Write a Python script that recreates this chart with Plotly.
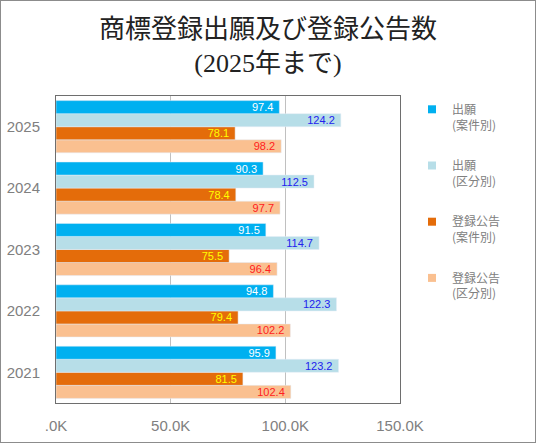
import plotly.graph_objects as go

# values in thousands
years = ["2021", "2022", "2023", "2024", "2025"]
app_cases = [95.9, 94.8, 91.5, 90.3, 97.4]
app_classes = [123.2, 122.3, 114.7, 112.5, 124.2]
reg_cases = [81.5, 79.4, 75.5, 78.4, 78.1]
reg_classes = [102.4, 102.2, 96.4, 97.7, 98.2]

series_names = ["出願<br>(案件別)", "出願<br>(区分別)", "登録公告<br>(案件別)", "登録公告<br>(区分別)"]
series_values = [app_cases, app_classes, reg_cases, reg_classes]
bar_colors = ["#00B0F0", "#B7DEE8", "#E46C0A", "#FAC090"]
label_colors = ["#FFFFFF", "#2222EE", "#FFFF00", "#FF2020"]

x_tickvals = [0, 50, 100, 150]
x_ticktext = [".0K", "50.0K", "100.0K", "150.0K"]

W, H = 536, 443
ML, MR, MT, MB = 56, 136, 96, 40
PW, PH = W - ML - MR, H - MT - MB

fig = go.Figure()

# plotly stacks grouped horizontal bars bottom-up, so add in reverse
for i in reversed(range(len(series_names))):
    fig.add_trace(
        go.Bar(
            name=series_names[i],
            y=years,
            x=series_values[i],
            orientation="h",
            marker_color=bar_colors[i],
            texttemplate="%{x:.1f}\u00a0",
            textposition="inside",
            insidetextanchor="end",
            constraintext="none",
            textfont={"color": label_colors[i], "size": 11, "family": "Liberation Sans, Arial, sans-serif"},
            showlegend=False,
            hoverinfo="x+name",
        )
    )

# small square legend keys (bar keys are too big)
for i in range(len(series_names)):
    fig.add_trace(
        go.Scatter(
            name=series_names[i],
            x=[None],
            y=[None],
            mode="markers",
            marker={"symbol": "square", "size": 8, "color": bar_colors[i]},
            legendgroup=str(i),
            legendrank=i,
        )
    )

fig.update_layout(
    barmode="group",
    bargap=0.15,
    bargroupgap=0,
    plot_bgcolor="white",
    paper_bgcolor="white",
    font={"family": "Liberation Sans, Noto Sans CJK JP, sans-serif", "size": 12, "color": "#808080"},
    title={
        "text": "商標登録出願及び登録公告数<br>(2025年まで)",
        "x": 0.5,
        "xanchor": "center",
        "y": 1 - 38 / H,
        "yanchor": "middle",
        "font": {"family": "Liberation Serif, Noto Sans CJK JP, serif", "size": 26, "color": "#222222"},
    },
    margin={"l": ML, "r": MR, "t": MT, "b": MB, "autoexpand": False},
    legend={
        "xref": "container",
        "yref": "container",
        "x": 412 / W,
        "xanchor": "left",
        "y": 1 - 95 / H,
        "yanchor": "top",
        "traceorder": "grouped",
        "tracegroupgap": 22,
        "valign": "top",
        "font": {"size": 12, "color": "#808080", "family": "Noto Sans CJK JP, sans-serif"},
        "itemwidth": 30,
    },
    showlegend=True,
)

fig.update_xaxes(
    range=[0, 150],
    tickvals=x_tickvals,
    ticktext=x_ticktext,
    showgrid=True,
    gridcolor="#C0C0C0",
    gridwidth=1,
    showline=True,
    linecolor="#6E6E6E",
    linewidth=1,
    mirror=True,
    zeroline=False,
    ticks="",
    ticklabelstandoff=9,
    tickfont={"size": 15, "color": "#808080"},
)
fig.update_yaxes(
    categoryorder="array",
    categoryarray=years,
    showline=True,
    linecolor="#6E6E6E",
    linewidth=1,
    mirror=True,
    ticks="",
    ticklabelstandoff=12,
    tickfont={"size": 15, "color": "#808080"},
)

# thin frame round the whole image
fig.add_shape(
    type="rect", xref="paper", yref="paper",
    x0=-ML / PW, x1=1 + MR / PW, y0=-MB / PH, y1=1 + MT / PH,
    line={"color": "#8C8C8C", "width": 2},
)

# pin the graph div to the page corner (the body keeps its default 8px margin)
fig.write_html(
    "out.html",
    config={"displayModeBar": False},
    default_width=f"{W}px; position:absolute; left:0; top:0",
    default_height=f"{H}px",
)
